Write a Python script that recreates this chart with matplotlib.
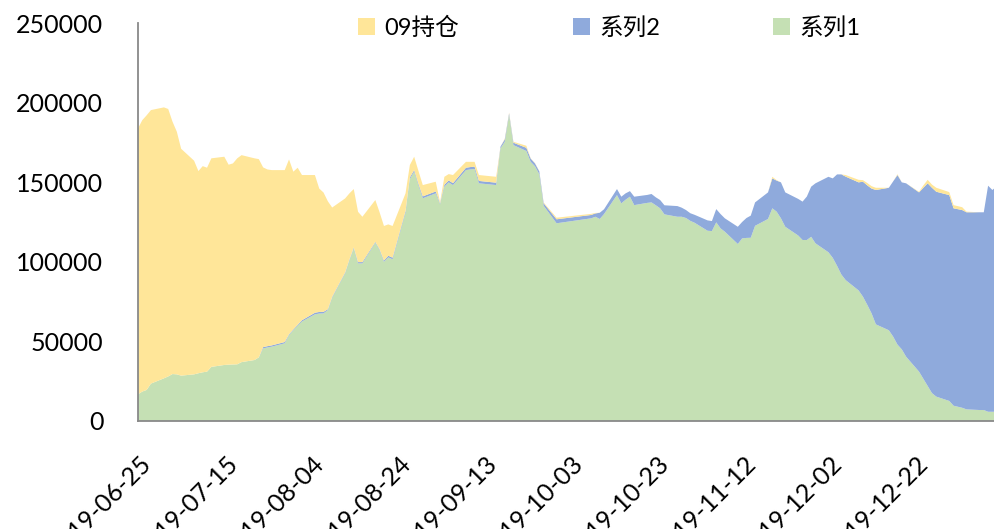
import pandas as pd
import matplotlib
matplotlib.use('Agg')
import matplotlib.pyplot as plt
import matplotlib.dates as mdates
from matplotlib.patches import Patch
from matplotlib.transforms import ScaledTranslation

# trading days (Mid-Autumn 09-13 and National Day week closed)
dates = [
    '2019-06-25', '2019-06-26', '2019-06-27', '2019-06-28',
    '2019-07-01', '2019-07-02', '2019-07-03', '2019-07-04', '2019-07-05',
    '2019-07-08', '2019-07-09', '2019-07-10', '2019-07-11', '2019-07-12',
    '2019-07-15', '2019-07-16', '2019-07-17', '2019-07-18', '2019-07-19',
    '2019-07-22', '2019-07-23', '2019-07-24', '2019-07-25', '2019-07-26',
    '2019-07-29', '2019-07-30', '2019-07-31', '2019-08-01', '2019-08-02',
    '2019-08-05', '2019-08-06', '2019-08-07', '2019-08-08', '2019-08-09',
    '2019-08-12', '2019-08-13', '2019-08-14', '2019-08-15', '2019-08-16',
    '2019-08-19', '2019-08-20', '2019-08-21', '2019-08-22', '2019-08-23',
    '2019-08-26', '2019-08-27', '2019-08-28', '2019-08-29', '2019-08-30',
    '2019-09-02', '2019-09-03', '2019-09-04', '2019-09-05', '2019-09-06',
    '2019-09-09', '2019-09-10', '2019-09-11', '2019-09-12',
    '2019-09-16', '2019-09-17', '2019-09-18', '2019-09-19', '2019-09-20',
    '2019-09-23', '2019-09-24', '2019-09-25', '2019-09-26', '2019-09-27',
    '2019-09-30',
    '2019-10-08', '2019-10-09', '2019-10-10', '2019-10-11',
    '2019-10-14', '2019-10-15', '2019-10-16', '2019-10-17', '2019-10-18',
    '2019-10-21', '2019-10-22', '2019-10-23', '2019-10-24', '2019-10-25',
    '2019-10-28', '2019-10-29', '2019-10-30', '2019-10-31', '2019-11-01',
    '2019-11-04', '2019-11-05', '2019-11-06', '2019-11-07', '2019-11-08',
    '2019-11-11', '2019-11-12', '2019-11-13', '2019-11-14', '2019-11-15',
    '2019-11-18', '2019-11-19', '2019-11-20', '2019-11-21', '2019-11-22',
    '2019-11-25', '2019-11-26', '2019-11-27', '2019-11-28', '2019-11-29',
    '2019-12-02', '2019-12-03', '2019-12-04', '2019-12-05', '2019-12-06',
    '2019-12-09', '2019-12-10', '2019-12-11', '2019-12-12', '2019-12-13',
    '2019-12-16', '2019-12-17', '2019-12-18', '2019-12-19', '2019-12-20',
    '2019-12-23', '2019-12-24', '2019-12-25', '2019-12-26', '2019-12-27',
    '2019-12-30', '2019-12-31', '2020-01-02', '2020-01-03',
    '2020-01-06', '2020-01-07', '2020-01-08', '2020-01-09', '2020-01-10',
]

series1 = [
    16800, 18500, 19500, 23500,
    26800, 28000, 29500, 29300, 28500,
    29300, 30000, 30600, 31000, 34000,
    35200, 35400, 35500, 35600, 37000,
    38300, 40000, 45600, 46200, 46700,
    48800, 54000, 57000, 60000, 62500,
    67000, 67500, 67600, 69700, 77500,
    92800, 101000, 108500, 99000, 99000,
    112000, 107400, 100000, 102800, 101600,
    131000, 152000, 156600, 148000, 139900,
    143000, 136100, 147200, 149900, 148200,
    157600, 158000, 158300, 149300,
    148200, 171300, 175400, 192200, 173300,
    169600, 162800, 160000, 155000, 135200,
    124200,
    127300, 128300, 126900, 130000,
    141900, 136700, 139000, 140900, 135600,
    137000, 137300, 135500, 133600, 129800,
    128300, 128300, 127500, 125700, 124500,
    119500, 119300, 124800, 121000, 118900,
    111200, 114700, 115000, 115100, 122600,
    126900, 133600, 131500, 127300, 122000,
    116500, 113700, 113700, 115700, 111600,
    106000, 102500, 97500, 92000, 88500,
    82000, 78100, 73000, 67600, 60700,
    57000, 53000, 48000, 45000, 40400,
    31000, 26500, 22000, 17500, 15300,
    12600, 9600, 8300, 7300,
    6900, 6900, 5800, 5800, 5800,
]

series2 = [
    0, 0, 0, 0,
    0, 0, 0, 0, 0,
    0, 0, 0, 0, 0,
    0, 0, 0, 0, 0,
    0, 0, 800, 800, 800,
    800, 500, 500, 500, 800,
    1000, 1000, 1000, 500, 500,
    500, 500, 500, 800, 800,
    500, 500, 800, 1000, 1000,
    1000, 1000, 1000, 1000, 1200,
    1200, 600, 1200, 1200, 1200,
    1500, 1500, 1500, 1500,
    1500, 1000, 1500, 1000, 1500,
    2000, 2000, 1800, 1800, 1600,
    2500,
    2100, 2100, 3900, 3000,
    3800, 4200, 4000, 3500, 5300,
    5000, 5300, 5000, 5200, 5700,
    6700, 5700, 5000, 4800, 5000,
    6500, 6300, 8300, 9000, 8400,
    10800, 10300, 12500, 13900, 14700,
    16700, 18800, 19500, 22600, 21600,
    23000, 24100, 27300, 31500, 37700,
    47400, 49900, 57400, 62900, 65000,
    67900, 72200, 75000, 78400, 84400,
    89500, 97500, 106500, 104900, 108900,
    112600, 120000, 127300, 129000, 128700,
    129300, 124000, 124200, 123800,
    124200, 124200, 142000, 139300, 141700,
]

hold09 = [
    167000, 170500, 172500, 171800,
    170200, 168000, 158500, 152400, 142500,
    134200, 127000, 129500, 128100, 131000,
    130800, 125600, 126300, 129400, 130000,
    126700, 124500, 112900, 111000, 110100,
    108000, 109800, 99100, 98600, 91200,
    86500, 77500, 74900, 67800, 56100,
    46500, 41500, 36700, 31600, 28500,
    26300, 23100, 21700, 19700, 19900,
    11000, 7800, 8400, 8000, 7100,
    6100, 800, 5000, 4000, 5100,
    3700, 3300, 3000, 3700,
    3700, 0, 500, 500, 600,
    1300, 200, 200, 200, 500,
    1000,
    700, 300, 0, 0,
    0, 0, 0, 0, 0,
    0, 0, 0, 0, 0,
    0, 0, 0, 0, 0,
    0, 0, 0, 0, 0,
    0, 0, 0, 0, 0,
    0, 1000, 300, 0, 0,
    0, 0, 0, 0, 0,
    0, 0, 0, 0, 1000,
    1600, 1000, 1500, 1500, 1400,
    0, 0, 500, 0, 0,
    400, 1500, 2200, 2000, 2500,
    1900, 2000, 1800, 400,
    0, 0, 0, 0, 0,
]

labels = ['09持仓', '系列2', '系列1']
colors = {'09持仓': '#FFE699', '系列2': '#8FAADC', '系列1': '#C5E0B4'}

plt.rcParams['font.family'] = ['Lato', 'Noto Sans CJK SC']

x = pd.to_datetime(dates)

fig = plt.figure(figsize=(9.95, 5.29), dpi=100)
ax = fig.add_axes([138 / 995, 1 - 421 / 529, 1 - 138 / 995, 398 / 529])

# stacked areas: 系列1 at the bottom, 09持仓 on top
ax.stackplot(x, series1, series2, hold09,
             colors=[colors['系列1'], colors['系列2'], colors['09持仓']],
             linewidth=0)

start = pd.Timestamp('2019-06-25')
ax.set_xlim(start, start + pd.Timedelta(days=198.6))
ax.set_ylim(0, 250000)
ax.set_yticks(range(0, 250001, 50000))
ax.set_xticks(pd.date_range(start, periods=10, freq='20D'))
ax.xaxis.set_major_formatter(mdates.DateFormatter('%Y-%m-%d'))

ax.tick_params(axis='both', length=0, labelsize=18)
ax.tick_params(axis='y', pad=25)
ax.tick_params(axis='x', pad=22)
shift = ScaledTranslation(2 / 100, 0, fig.dpi_scale_trans)
for lab in ax.get_xticklabels():
    lab.set_rotation(45)
    lab.set_ha('right')
    lab.set_va('top')
    lab.set_rotation_mode('anchor')
    lab.set_transform(lab.get_transform() + shift)

for side in ['top', 'right']:
    ax.spines[side].set_visible(False)
for side in ['left', 'bottom']:
    ax.spines[side].set_color('#898989')
    ax.spines[side].set_linewidth(1.3)

handles = [Patch(facecolor=colors[l], edgecolor='none') for l in labels]
fig.legend(handles, labels, ncol=3, loc='center left',
           bbox_to_anchor=(358 / 995, 1 - 28 / 529), frameon=False,
           fontsize=17, handlelength=0.72, handleheight=0.72,
           handletextpad=0.4, columnspacing=4.8,
           borderpad=0, borderaxespad=0)

fig.savefig('out.png', dpi=100)
